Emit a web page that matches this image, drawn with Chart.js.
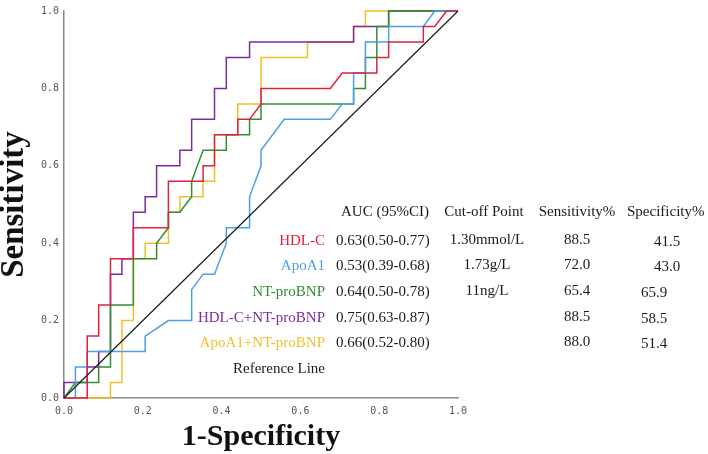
<!DOCTYPE html>
<html>
<head>
<meta charset="utf-8">
<script src="https://cdn.jsdelivr.net/npm/chart.js@4.4.0/dist/chart.umd.min.js"></script>
<style>
  html, body { margin: 0; padding: 0; background: #fff; }
  #wrap { position: relative; width: 708px; height: 454px; overflow: hidden; }
  #grafico-roc { position: absolute; left: 0; top: 0; }
  .t { position: absolute; font-family: "Liberation Serif", "Times New Roman", serif; font-size: 15px; white-space: nowrap; line-height: 1; color: #1a1a1a; }
</style>
</head>
<body>
<div id="wrap">
  <canvas id="grafico-roc" width="708" height="454"></canvas>
</div>
<script>
// ticks de los ejes
const ticksEjes = [0, 0.2, 0.4, 0.6, 0.8, 1.0];

// curvas ROC (1-especificidad, sensibilidad)
const hdlX = [0, .059, .059, .088, .088, .118, .118, .176, .176, .265, .265, .353, .353, .382, .382, .441, .441, .471, .5, .5, .676, .706, .794, .794, .824, .824, .912, .912, .941, .971, 1];
const hdlY = [0, 0, .16, .16, .24, .24, .36, .36, .44, .44, .56, .56, .6, .6, .68, .68, .72, .72, .76, .8, .8, .84, .84, .88, .88, .92, .92, .96, .96, 1, 1];

const apoX = [0, .029, .029, .059, .059, .206, .206, .265, .324, .324, .353, .382, .412, .412, .471, .471, .5, .5, .559, .676, .706, .735, .735, .765, .765, .824, .824, .912, .941, 1];
const apoY = [0, 0, .08, .08, .12, .12, .16, .2, .2, .28, .32, .32, .4, .44, .44, .52, .6, .64, .72, .72, .76, .76, .84, .84, .92, .92, .96, .96, 1, 1];

const bnpX = [0, .029, .088, .088, .118, .118, .176, .176, .235, .235, .265, .265, .294, .324, .324, .353, .412, .412, .471, .471, .5, .5, .735, .735, .765, .765, .794, .794, .824, .824, 1];
const bnpY = [0, .04, .04, .08, .08, .24, .24, .36, .36, .4, .44, .48, .48, .52, .56, .64, .64, .68, .68, .72, .72, .76, .76, .8, .8, .88, .88, .96, .96, 1, 1];

const hdlBnpX = [0, 0, .059, .059, .088, .088, .118, .118, .147, .147, .176, .176, .206, .206, .235, .235, .294, .294, .324, .324, .382, .382, .412, .412, .471, .471, .735, .735, .824, .824, 1];
const hdlBnpY = [0, .04, .04, .08, .08, .12, .12, .32, .32, .36, .36, .48, .48, .52, .52, .6, .6, .64, .64, .72, .72, .8, .8, .88, .88, .92, .92, .96, .96, 1, 1];

const apoBnpX = [0, .118, .118, .147, .147, .176, .176, .206, .206, .265, .265, .294, .294, .353, .353, .382, .382, .441, .441, .5, .5, .618, .618, .735, .735, .765, .765, 1];
const apoBnpY = [0, 0, .04, .04, .2, .2, .36, .36, .4, .4, .48, .48, .52, .52, .56, .56, .68, .68, .76, .76, .88, .88, .92, .92, .96, .96, 1, 1];

const refX = [0, 1];
const refY = [0, 1];

// tabla de la leyenda
const nombres = ['HDL-C', 'ApoA1', 'NT-proBNP', 'HDL-C+NT-proBNP', 'ApoA1+NT-proBNP', 'Reference Line'];
const colores = ['#e0213d', '#4d9de8', '#2f8f2f', '#7b2d9c', '#f0bf2a', '#1a1a1a'];
const aucTexto = ['0.63(0.50-0.77)', '0.53(0.39-0.68)', '0.64(0.50-0.78)', '0.75(0.63-0.87)', '0.66(0.52-0.80)'];
const cutoffTexto = ['1.30mmol/L', '1.73g/L', '11ng/L', '', ''];
const sensTexto = ['88.5', '72.0', '65.4', '88.5', '88.0'];
const espTexto = ['41.5', '43.0', '65.9', '58.5', '51.4'];
const encabezados = ['AUC (95%CI)', 'Cut-off Point', 'Sensitivity%', 'Specificity%'];

function puntos(xs, ys) {
  return xs.map((x, i) => ({ x: x, y: ys[i] }));
}

const series = [
  [refX, refY, 1.2],
  [hdlX, hdlY, 1.5],
  [apoX, apoY, 1.5],
  [bnpX, bnpY, 1.5],
  [hdlBnpX, hdlBnpY, 1.5],
  [apoBnpX, apoBnpY, 1.5]
];
const idxColor = [5, 0, 1, 2, 3, 4];

const datasets = series.map((s, i) => ({
  data: puntos(s[0], s[1]),
  showLine: true,
  borderColor: colores[idxColor[i]],
  borderWidth: s[2],
  pointRadius: 0,
  tension: 0,
  fill: false,
  clip: false
}));

const fuenteTicks = { family: '"DejaVu Sans Mono", monospace', size: 10 };

new Chart(document.getElementById('grafico-roc').getContext('2d'), {
  type: 'scatter',
  data: { datasets: datasets },
  options: {
    responsive: false,
    devicePixelRatio: 1,
    animation: false,
    layout: { padding: { left: 0, right: 250, top: 5, bottom: 0 } },
    plugins: { legend: { display: false }, tooltip: { enabled: false } },
    scales: {
      x: {
        type: 'linear', min: 0, max: 1,
        afterBuildTicks: (s) => { s.ticks = ticksEjes.map(v => ({ value: v })); },
        afterFit: (s) => { s.height = 56; },
        grid: { display: false, drawTicks: false },
        border: { display: true, color: '#8a8a8a', width: 1.5 },
        ticks: { padding: 7, color: '#555', font: fuenteTicks, maxRotation: 0, callback: v => v.toFixed(1) },
        title: {
          display: true, text: '1-Specificity', color: '#111',
          font: { family: '"Liberation Serif", serif', size: 30, weight: 'bold', lineHeight: 1.13 },
          padding: { top: 0, bottom: 0 }
        }
      },
      y: {
        type: 'linear', min: 0, max: 1,
        afterBuildTicks: (s) => { s.ticks = ticksEjes.map(v => ({ value: v })); },
        afterFit: (s) => { s.width = 64; },
        grid: { display: false, drawTicks: false },
        border: { display: true, color: '#8a8a8a', width: 1.5 },
        ticks: { padding: 5, color: '#555', font: fuenteTicks, callback: v => v.toFixed(1) },
        title: {
          display: true, text: 'Sensitivity', color: '#111',
          font: { family: '"Liberation Serif", serif', size: 33, weight: 'bold', lineHeight: 0.85 },
          padding: { top: 0, bottom: 0 }
        }
      }
    }
  }
});

// texto de la tabla como HTML
const wrap = document.getElementById('wrap');
function texto(t, x, y, alin, color) {
  const d = document.createElement('div');
  d.className = 't';
  d.textContent = t;
  d.style.left = x + 'px';
  d.style.top = y + 'px';
  const tx = alin === 'right' ? '-100%' : (alin === 'center' ? '-50%' : '0');
  d.style.transform = 'translate(' + tx + ',-50%)';
  if (color) d.style.color = color;
  wrap.appendChild(d);
}

texto(encabezados[0], 341, 211, 'left');
texto(encabezados[1], 484, 211, 'center');
texto(encabezados[2], 577, 211, 'center');
texto(encabezados[3], 627, 211, 'left');

const filasY = [240, 265, 291, 317, 342, 368];
const espX = [667, 667, 654, 654, 654];
nombres.forEach((n, i) => {
  texto(n, 325, filasY[i], 'right', colores[i]);
  if (i < aucTexto.length) {
    texto(aucTexto[i], 336, filasY[i], 'left');
    if (cutoffTexto[i]) texto(cutoffTexto[i], 487, filasY[i] - 1, 'center');
    texto(sensTexto[i], 577, filasY[i] - 1, 'center');
    texto(espTexto[i], espX[i], filasY[i] + 1, 'center');
  }
});
</script>
</body>
</html>
